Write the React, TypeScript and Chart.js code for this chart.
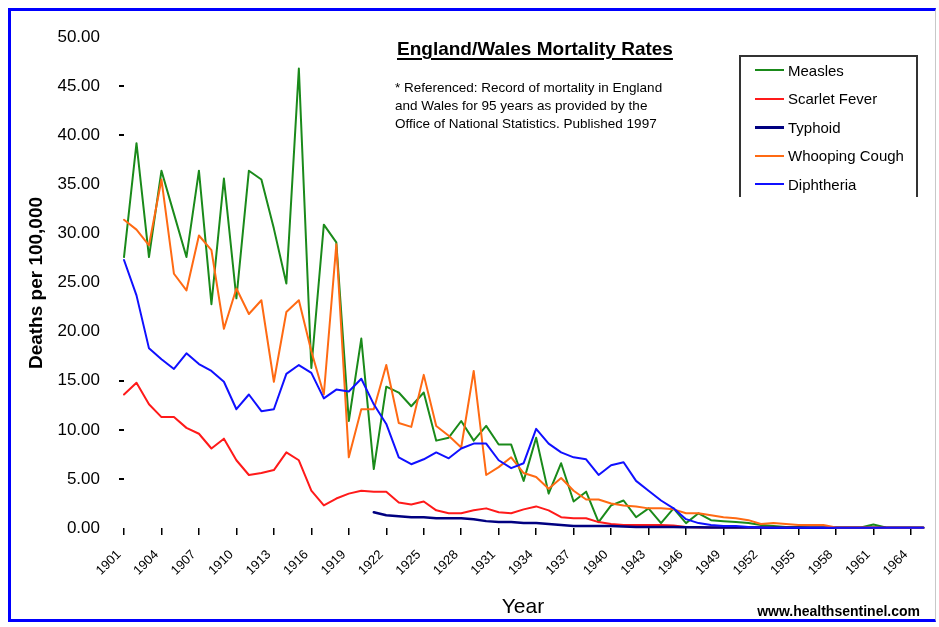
import React, { useEffect, useRef } from 'react';
import { Chart, registerables } from 'chart.js';

Chart.register(...registerables);

const YEARS = [
  1901, 1902, 1903, 1904, 1905, 1906, 1907, 1908, 1909, 1910,
  1911, 1912, 1913, 1914, 1915, 1916, 1917, 1918, 1919, 1920,
  1921, 1922, 1923, 1924, 1925, 1926, 1927, 1928, 1929, 1930,
  1931, 1932, 1933, 1934, 1935, 1936, 1937, 1938, 1939, 1940,
  1941, 1942, 1943, 1944, 1945, 1946, 1947, 1948, 1949, 1950,
  1951, 1952, 1953, 1954, 1955, 1956, 1957, 1958, 1959, 1960,
  1961, 1962, 1963, 1964, 1965,
];

const X_TICK_LABELS = [
  '1901', '1904', '1907', '1910', '1913', '1916', '1919', '1922', '1925', '1928', '1931',
  '1934', '1937', '1940', '1943', '1946', '1949', '1952', '1955', '1958', '1961', '1964',
];

const MEASLES = [
  27.6, 39.2, 27.6, 36.4, 32.0, 27.6, 36.4, 22.8, 35.6, 23.4,
  36.4, 35.5, 30.5, 24.9, 46.8, 16.3, 30.9, 29.1, 10.9, 19.3,
  6.0, 14.4, 13.8, 12.4, 13.8, 8.9, 9.2, 10.9, 8.9, 10.4,
  8.5, 8.5, 4.8, 9.2, 3.5, 6.6, 2.7, 3.7, 0.6, 2.3,
  2.8, 1.1, 2.0, 0.5, 2.0, 0.5, 1.5, 0.8, 0.7, 0.6,
  0.5, 0.3, 0.2, 0.1, 0.1, 0.05, 0.05, 0.05, 0.05, 0.05,
  0.35, 0.05, 0.02, 0.02, 0.02,
];

const SCARLET_FEVER = [
  13.6, 14.8, 12.6, 11.3, 11.3, 10.2, 9.6, 8.1, 9.1, 6.9,
  5.4, 5.6, 5.9, 7.7, 6.9, 3.8, 2.3, 3.0, 3.5, 3.8,
  3.7, 3.7, 2.6, 2.4, 2.7, 1.8, 1.5, 1.5, 1.8, 2.0,
  1.6, 1.5, 1.9, 2.2, 1.8, 1.1, 1.0, 1.0, 0.6, 0.4,
  0.3, 0.3, 0.3, 0.3, 0.25, 0.1, 0.05, 0.05, 0.05, 0.05,
  0.04, 0.04, 0.03, 0.03, 0.03, 0.02, 0.02, 0.02, 0.02, 0.02,
  0.02, 0.02, 0.02, 0.02, 0.02,
];

const TYPHOID = [
  null, null, null, null, null, null, null, null, null, null,
  null, null, null, null, null, null, null, null, null, null,
  1.6, 1.3, 1.2, 1.1, 1.1, 1.0, 1.0, 1.0, 0.9, 0.7,
  0.6, 0.6, 0.5, 0.5, 0.4, 0.3, 0.2, 0.2, 0.2, 0.2,
  0.15, 0.1, 0.1, 0.1, 0.1, 0.08, 0.08, 0.06, 0.05, 0.05,
  0.04, 0.04, 0.03, 0.03, 0.03, 0.02, 0.02, 0.02, 0.02, 0.02,
  0.02, 0.02, 0.02, 0.02, 0.02,
];

const WHOOPING_COUGH = [
  31.4, 30.4, 28.8, 35.5, 25.9, 24.2, 29.8, 28.3, 20.3, 24.4,
  21.8, 23.2, 14.9, 22.0, 23.2, 18.0, 13.6, 28.9, 7.2, 12.1,
  12.1, 16.6, 10.7, 10.3, 15.6, 10.4, 9.4, 8.2, 16.0, 5.4,
  6.2, 7.2, 5.6, 5.2, 4.0, 5.1, 3.8, 2.9, 2.9, 2.5,
  2.3, 2.2, 2.0, 2.0, 1.9, 1.5, 1.5, 1.3, 1.1, 1.0,
  0.8, 0.4, 0.5, 0.4, 0.3, 0.3, 0.3, 0.05, 0.05, 0.05,
  0.04, 0.03, 0.03, 0.02, 0.02,
];

const DIPHTHERIA = [
  27.3, 23.7, 18.3, 17.2, 16.2, 17.8, 16.7, 16.0, 14.9, 12.1,
  13.6, 11.9, 12.1, 15.7, 16.6, 15.8, 13.2, 14.1, 13.9, 15.2,
  12.6, 10.6, 7.2, 6.5, 7.0, 7.7, 7.1, 8.1, 8.6, 8.6,
  6.9, 6.1, 6.6, 10.1, 8.6, 7.7, 7.2, 7.0, 5.4, 6.4,
  6.7, 4.8, 3.8, 2.8, 2.0, 0.9, 0.5, 0.3, 0.2, 0.2,
  0.1, 0.05, 0.03, 0.02, 0.02, 0.02, 0.02, 0.02, 0.02, 0.02,
  0.02, 0.02, 0.02, 0.02, 0.02,
];

const SERIES = [
  { label: 'Measles', data: MEASLES, color: '#1a8a1a', width: 2, order: 4 },
  { label: 'Scarlet Fever', data: SCARLET_FEVER, color: '#ff1a1a', width: 2, order: 3 },
  { label: 'Typhoid', data: TYPHOID, color: '#000080', width: 2.5, order: 2 },
  { label: 'Whooping Cough', data: WHOOPING_COUGH, color: '#ff6a13', width: 2, order: 1 },
  { label: 'Diphtheria', data: DIPHTHERIA, color: '#1010ff', width: 2, order: 0 },
];

const Y_MARKED_TICKS = [5, 10, 15, 40, 45];
const FONT = 'Arial, "Liberation Sans", sans-serif';

export default function App() {
  const ref = useRef<HTMLCanvasElement>(null);

  useEffect(() => {
    const chart = new Chart(ref.current!, {
      type: 'line',
      data: {
        labels: YEARS.map(String),
        datasets: SERIES.map((s) => ({
          label: s.label,
          data: s.data,
          borderColor: s.color,
          backgroundColor: s.color,
          borderWidth: s.width,
          borderJoinStyle: 'round',
          borderCapStyle: 'round',
          pointRadius: 0,
          tension: 0,
          fill: false,
          spanGaps: false,
          order: s.order,
          clip: 6,
        })),
      },
      options: {
        animation: false,
        responsive: false,
        maintainAspectRatio: false,
        devicePixelRatio: 1,
        layout: { padding: { left: 0, right: 9, top: 25, bottom: 0 } },
        plugins: { legend: { display: false }, tooltip: { enabled: false } },
        scales: {
          x: {
            type: 'category',
            offset: false,
            border: { display: false },
            grid: {
              display: true,
              drawOnChartArea: false,
              drawTicks: true,
              tickLength: 7,
              color: '#000',
              lineWidth: 1.5,
            },
            ticks: {
              autoSkip: false,
              minRotation: 45,
              maxRotation: 45,
              padding: 12,
              labelOffset: -5,
              color: '#000',
              font: { family: FONT, size: 13 },
              callback: (_v: any, i: number) => {
                const l = String(YEARS[i]);
                return X_TICK_LABELS.includes(l) ? l : null;
              },
            },
            afterFit: (s: any) => {
              s.height = 93;
            },
          },
          y: {
            min: 0,
            max: 50,
            border: { display: false },
            grid: {
              drawOnChartArea: false,
              drawTicks: true,
              tickLength: 5,
              lineWidth: 2,
              color: (ctx: any) =>
                ctx.tick && Y_MARKED_TICKS.includes(ctx.tick.value) ? '#000' : 'rgba(0,0,0,0)',
            },
            ticks: {
              stepSize: 5,
              padding: 19,
              color: '#000',
              font: { family: FONT, size: 17 },
              callback: (v: any) => Number(v).toFixed(2),
            },
            afterFit: (s: any) => {
              s.width = 116;
            },
          },
        },
      },
    });
    return () => chart.destroy();
  }, []);

  return (
    <div style={{ position: 'absolute', left: 8, top: 8, width: 928, height: 614, fontFamily: FONT, color: '#000' }}>
      <canvas ref={ref} width={926} height={613} style={{ position: 'absolute', left: 0, top: 0, display: 'block' }} />
      {/* frame */}
      <div
        style={{
          position: 'absolute',
          left: 0,
          top: 0,
          width: 928,
          height: 614,
          boxSizing: 'border-box',
          borderLeft: '3px solid #0000ff',
          borderTop: '3px solid #0000ff',
          borderBottom: '3px solid #0000ff',
          borderRight: '1px solid #c8c8c8',
          pointerEvents: 'none',
        }}
      />
      {/* title */}
      <div
        style={{
          position: 'absolute',
          left: 389,
          top: 30,
          fontWeight: 'bold',
          fontSize: 19,
          lineHeight: '22px',
          whiteSpace: 'nowrap',
          textDecoration: 'underline',
          textDecorationThickness: 2,
          textUnderlineOffset: 3,
        }}
      >
        England/Wales Mortality Rates
      </div>
      {/* note */}
      <div
        style={{
          position: 'absolute',
          left: 387,
          top: 71,
          fontSize: 13.5,
          lineHeight: '18px',
          whiteSpace: 'nowrap',
        }}
      >
        <div>* Referenced: Record of mortality in England</div>
        <div>and Wales for 95 years as provided by the</div>
        <div>Office of National Statistics. Published 1997</div>
      </div>
      {/* legend */}
      <div
        style={{
          position: 'absolute',
          left: 731,
          top: 47,
          width: 179,
          height: 142,
          boxSizing: 'border-box',
          borderTop: '2px solid #333',
          borderLeft: '2px solid #333',
          borderRight: '2px solid #333',
          background: '#fff',
        }}
      >
        {SERIES.map((s, i) => (
          <div
            key={s.label}
            style={{ position: 'absolute', left: 14, top: 13 + i * 28.6 - 9, height: 18, display: 'flex', alignItems: 'center' }}
          >
            <div style={{ width: 29, height: s.width > 2 ? 3 : 2, background: s.color }} />
            <div style={{ marginLeft: 4, fontSize: 15, whiteSpace: 'nowrap' }}>{s.label}</div>
          </div>
        ))}
      </div>
      {/* y axis title */}
      <div
        style={{
          position: 'absolute',
          left: 28,
          top: 275,
          transform: 'translate(-50%, -50%) rotate(-90deg)',
          fontWeight: 'bold',
          fontSize: 19,
          whiteSpace: 'nowrap',
        }}
      >
        Deaths per 100,000
      </div>
      {/* x axis title */}
      <div
        style={{
          position: 'absolute',
          left: 515,
          top: 598,
          transform: 'translate(-50%, -50%)',
          fontSize: 21,
          whiteSpace: 'nowrap',
        }}
      >
        Year
      </div>
      {/* footer */}
      <div
        style={{
          position: 'absolute',
          right: 16,
          top: 595,
          fontWeight: 'bold',
          fontSize: 14,
          whiteSpace: 'nowrap',
        }}
      >
        www.healthsentinel.com
      </div>
    </div>
  );
}
